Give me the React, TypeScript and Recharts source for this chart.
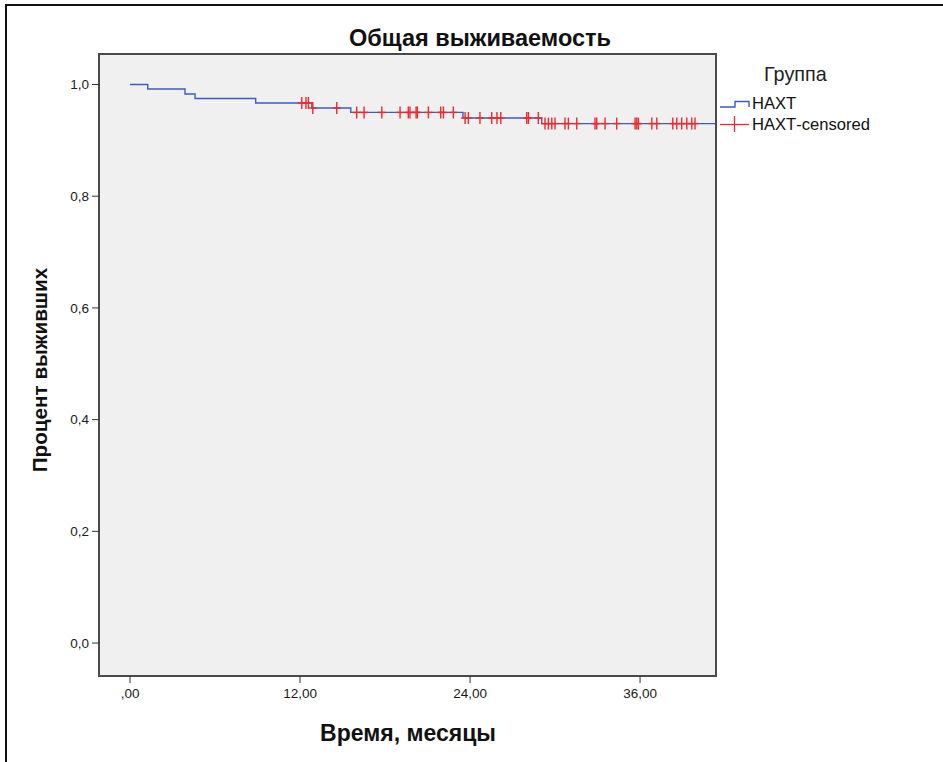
import React from 'react';
import { ComposedChart, Line, Scatter, XAxis, YAxis, ReferenceArea } from 'recharts';

// Kaplan–Meier step points (time in months, survival proportion)
const stepTimes = [0, 1.25, 3.88, 4.59, 8.87, 12.83, 15.58, 23.5, 29.06, 41.3];
const stepSurvival = [1.0, 0.992, 0.983, 0.975, 0.967, 0.958, 0.95, 0.94, 0.93, 0.93];

// Censored observations (months)
const censoredTimes = [
  12.12, 12.42, 12.59, 12.9, 14.59, 16.0, 16.52, 17.77, 19.06, 19.64, 19.76, 20.19, 20.28,
  21.06, 21.93, 22.12, 22.82, 23.65, 23.88, 24.7, 25.53, 25.9, 26.17, 28.0, 28.12, 28.82,
  29.29, 29.53, 29.77, 30.0, 30.7, 30.94, 31.53, 32.82, 32.94, 33.53, 34.35, 35.65, 35.77,
  35.88, 36.83, 37.18, 38.31, 38.59, 38.94, 39.3, 39.65, 39.88,
];

const xTicks = [0, 12, 24, 36];
const yTicks = [0, 0.2, 0.4, 0.6, 0.8, 1.0];

const titleText = 'Общая выживаемость';
const xTitle = 'Время, месяцы';
const yTitle = 'Процент выживших';
const legendTitle = 'Группа';
const seriesName = 'НАХТ';
const censoredName = 'НАХТ-censored';

const X_DOMAIN: [number, number] = [-2.19, 41.36];
const Y_DOMAIN: [number, number] = [-0.059, 1.0546];

const BLUE = '#3d5bbd';
const RED = '#f0282d';
const FONT = '"Liberation Sans", Arial, sans-serif';

const survivalAt = (t: number) => {
  let s = stepSurvival[0];
  for (let i = 0; i < stepTimes.length; i++) {
    if (stepTimes[i] <= t) s = stepSurvival[i];
  }
  return s;
};

const curveData = stepTimes.map((t, i) => ({ t, s: stepSurvival[i] }));
const censoredData = censoredTimes.map((t) => ({ t, s: survivalAt(t) }));

const Cross = (props: any) => {
  const { cx, cy } = props;
  if (cx == null || cy == null) return null;
  return (
    <g stroke={RED} strokeWidth={1.4}>
      <line x1={cx} y1={cy - 6} x2={cx} y2={cy + 6} />
      <line x1={cx - 4} y1={cy} x2={cx + 4} y2={cy} />
    </g>
  );
};

const fmtX = (v: number) => (v === 0 ? ',00' : `${v},00`);
const fmtY = (v: number) => v.toFixed(1).replace('.', ',');

export default function App() {
  return (
    <div
      style={{
        position: 'absolute',
        left: 0,
        top: 0,
        width: 943,
        height: 762,
        background: '#fff',
        fontFamily: FONT,
        overflow: 'hidden',
      }}
    >
      <div
        style={{
          position: 'absolute',
          left: 5,
          top: 4,
          width: 960,
          height: 780,
          borderLeft: '2px solid #111',
          borderTop: '2px solid #111',
        }}
      />
      <ComposedChart
        width={943}
        height={762}
        margin={{ top: 54, right: 227, bottom: 26, left: 39 }}
        style={{ position: 'absolute', left: 0, top: 0 }}
      >
        <XAxis
          type="number"
          dataKey="t"
          domain={X_DOMAIN}
          ticks={xTicks}
          tickFormatter={fmtX}
          allowDataOverflow
          height={60}
          axisLine={false}
          tickLine={{ stroke: '#333' }}
          tickSize={7}
          tickMargin={5}
          tick={{ fill: '#1a1a1a', fontSize: 13.5, fontFamily: FONT }}
        />
        <YAxis
          type="number"
          dataKey="s"
          domain={Y_DOMAIN}
          ticks={yTicks}
          tickFormatter={fmtY}
          allowDataOverflow
          width={60}
          axisLine={false}
          tickLine={{ stroke: '#333' }}
          tickSize={7}
          tickMargin={3}
          tick={{ fill: '#1a1a1a', fontSize: 13.5, fontFamily: FONT }}
        />
        <ReferenceArea
          x1={X_DOMAIN[0]}
          x2={X_DOMAIN[1]}
          y1={Y_DOMAIN[0]}
          y2={Y_DOMAIN[1]}
          fill="#f0f0f0"
          fillOpacity={1}
          stroke="#4a4a4a"
          strokeWidth={2}
          ifOverflow="visible"
        />
        <Line
          data={curveData}
          dataKey="s"
          type="stepAfter"
          stroke={BLUE}
          strokeWidth={1.4}
          dot={false}
          activeDot={false}
          isAnimationActive={false}
        />
        <Scatter data={censoredData} dataKey="s" shape={<Cross />} isAnimationActive={false} />
      </ComposedChart>

      <div
        style={{
          position: 'absolute',
          left: 0,
          width: 960,
          top: 24,
          textAlign: 'center',
          fontSize: 23.5,
          fontWeight: 'bold',
          color: '#111',
          lineHeight: '28px',
          whiteSpace: 'nowrap',
        }}
      >
        {titleText}
      </div>
      <div
        style={{
          position: 'absolute',
          left: 208,
          width: 400,
          top: 719,
          textAlign: 'center',
          fontSize: 23,
          fontWeight: 'bold',
          color: '#111',
          lineHeight: '28px',
          whiteSpace: 'nowrap',
        }}
      >
        {xTitle}
      </div>
      <div
        style={{
          position: 'absolute',
          left: 40,
          top: 370,
          width: 300,
          height: 28,
          marginLeft: -150,
          marginTop: -14,
          transform: 'rotate(-90deg)',
          textAlign: 'center',
          fontSize: 20.7,
          fontWeight: 'bold',
          color: '#111',
          lineHeight: '28px',
          whiteSpace: 'nowrap',
        }}
      >
        {yTitle}
      </div>

      <div
        style={{
          position: 'absolute',
          left: 764,
          top: 62,
          fontSize: 19.8,
          color: '#222',
          lineHeight: '24px',
          whiteSpace: 'nowrap',
        }}
      >
        {legendTitle}
      </div>
      <svg
        width={40}
        height={50}
        style={{ position: 'absolute', left: 715, top: 95 }}
      >
        <path d="M5,12 H20 V6.5 H34 V12" fill="none" stroke={BLUE} strokeWidth={1.4} />
        <line x1={5} y1={29.5} x2={34} y2={29.5} stroke={RED} strokeWidth={1.3} />
        <line x1={19.5} y1={21} x2={19.5} y2={37} stroke={RED} strokeWidth={1.3} />
      </svg>
      <div
        style={{
          position: 'absolute',
          left: 752,
          top: 94,
          fontSize: 16.6,
          color: '#111',
          lineHeight: '20px',
          whiteSpace: 'nowrap',
        }}
      >
        {seriesName}
      </div>
      <div
        style={{
          position: 'absolute',
          left: 752,
          top: 115,
          fontSize: 16.6,
          color: '#111',
          lineHeight: '20px',
          whiteSpace: 'nowrap',
        }}
      >
        {censoredName}
      </div>
    </div>
  );
}
